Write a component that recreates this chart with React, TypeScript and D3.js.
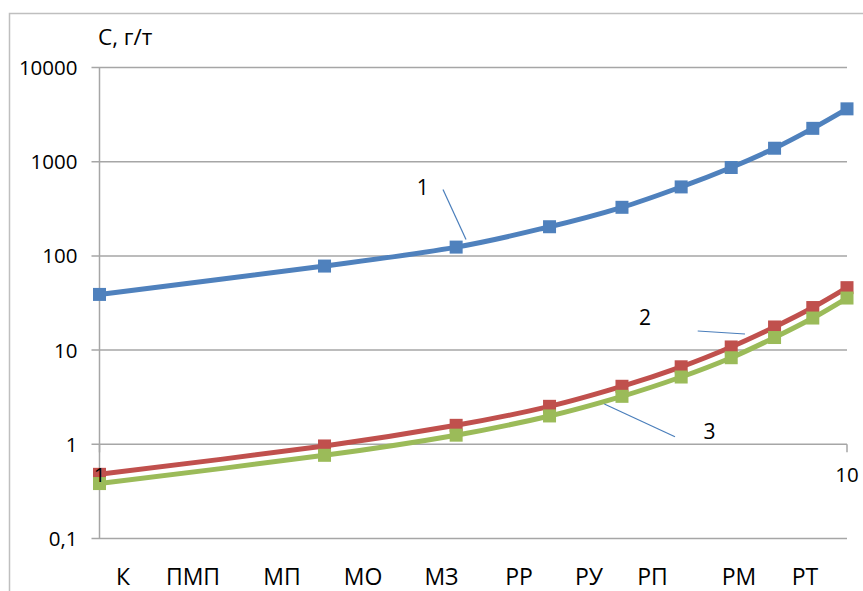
import React from "react";
import * as d3 from "d3";

// Stage positions along the horizontal (logarithmic) axis
const stages = [1, 2, 3, 4, 5, 6, 7, 8, 9, 10];

// Concentration, g/t, per curve
const series1 = [39, 78, 124, 204, 328, 540, 868, 1390, 2260, 3640];
const series2 = [0.48, 0.96, 1.59, 2.53, 4.13, 6.65, 10.8, 17.6, 28.3, 46];
const series3 = [0.383, 0.764, 1.25, 2.0, 3.23, 5.18, 8.3, 13.6, 21.9, 35.7];

const seriesColors = ["#4f81bd", "#c0504d", "#9bbb59"];
const seriesNames = ["1", "2", "3"];

// Category captions written under the plot
const categories = ["К", "ПМП", "МП", "МО", "МЗ", "РР", "РУ", "РП", "РМ", "РТ"];

// Axis ticks
const yTicks = [0.1, 1, 10, 100, 1000, 10000];
const yTickLabels = ["0,1", "1", "10", "100", "1000", "10000"];
const xTicks = [1, 10];
const xTickLabels = ["1", "10"];

// ---- layout ----
const W = 863;
const H = 591;
const plot = { left: 99.5, right: 847, top: 67.5, bottom: 538.5 };
const categoryX = [123, 193, 282, 363, 441.5, 519, 589, 652.5, 739, 805];
const categoryBaseline = 584.5;
// curve captions: text position and leader line (x1,y1,x2,y2)
const captions = [
  { tx: 422.7, ty: 195, line: [443, 189.5, 466, 239.5] },
  { tx: 645, ty: 325, line: [697.7, 331, 745, 334] },
  { tx: 709.5, ty: 439, line: [604.3, 404, 675, 436.7] },
];

const FONT = "'Open Sans', 'Liberation Sans', sans-serif";
const GRID = "#a6a6a6";

export default function App() {
  const x = d3.scaleLog().domain([1, 10]).range([plot.left, plot.right]);
  const y = d3.scaleLog().domain([0.1, 10000]).range([plot.bottom, plot.top]);

  const line = d3
    .line<number>()
    .x((_, i) => x(stages[i]))
    .y((v) => y(v))
    .curve(d3.curveCatmullRom.alpha(0));

  const all = [series1, series2, series3];
  const m = 13;

  return (
    <div style={{ position: "fixed", left: 0, top: 0 }}>
      <svg width={W} height={H} style={{ display: "block", background: "#fff" }}>
        {/* chart frame */}
        <rect x={9.5} y={13.5} width={W + 20} height={H + 20} fill="#fff" stroke="#bfbfbf" strokeWidth={1.5} />

        {/* title */}
        <text x={98} y={45} fontFamily={FONT} fontSize={22.5} fill="#000">
          С, г/т
        </text>

        {/* horizontal gridlines + y ticks */}
        {yTicks.map((t, i) => (
          <g key={t}>
            <line x1={plot.left - 8} x2={plot.right} y1={y(t)} y2={y(t)} stroke={GRID} strokeWidth={1.5} />
            <text
              x={77.5}
              y={y(t) + 7.5}
              textAnchor="end"
              fontFamily={FONT}
              fontSize={20.5}
              fill="#000"
            >
              {yTickLabels[i]}
            </text>
          </g>
        ))}

        {/* vertical axis */}
        <line x1={plot.left} x2={plot.left} y1={plot.top} y2={plot.bottom} stroke={GRID} strokeWidth={1.5} />

        {/* horizontal log axis crossing at 1 */}
        {xTicks.map((t) => (
          <line key={t} x1={x(t)} x2={x(t)} y1={y(1)} y2={y(1) + 8} stroke={GRID} strokeWidth={1.5} />
        ))}

        {/* curves */}
        {all.map((s, si) => (
          <g key={si}>
            <path d={line(s) || ""} fill="none" stroke={seriesColors[si]} strokeWidth={5} strokeLinejoin="round" />
            {s.map((v, i) => (
              <rect
                key={i}
                x={x(stages[i]) - m / 2}
                y={y(v) - m / 2}
                width={m}
                height={m}
                fill={seriesColors[si]}
              />
            ))}
          </g>
        ))}

        {/* x tick labels */}
        {xTicks.map((t, i) => (
          <text
            key={t}
            x={x(t)}
            y={482}
            textAnchor="middle"
            fontFamily={FONT}
            fontSize={20.5}
            fill="#000"
          >
            {xTickLabels[i]}
          </text>
        ))}

        {/* curve captions */}
        {captions.map((c, i) => (
          <g key={i}>
            <line
              x1={c.line[0]}
              y1={c.line[1]}
              x2={c.line[2]}
              y2={c.line[3]}
              stroke="#4a7ebb"
              strokeWidth={1.2}
            />
            <text x={c.tx} y={c.ty} textAnchor="middle" fontFamily={FONT} fontSize={21} fill="#000">
              {seriesNames[i]}
            </text>
          </g>
        ))}

        {/* category captions */}
        {categories.map((c, i) => (
          <text
            key={c}
            x={categoryX[i]}
            y={categoryBaseline}
            textAnchor="middle"
            fontFamily={FONT}
            fontSize={23}
            fill="#000"
          >
            {c}
          </text>
        ))}
      </svg>
    </div>
  );
}
